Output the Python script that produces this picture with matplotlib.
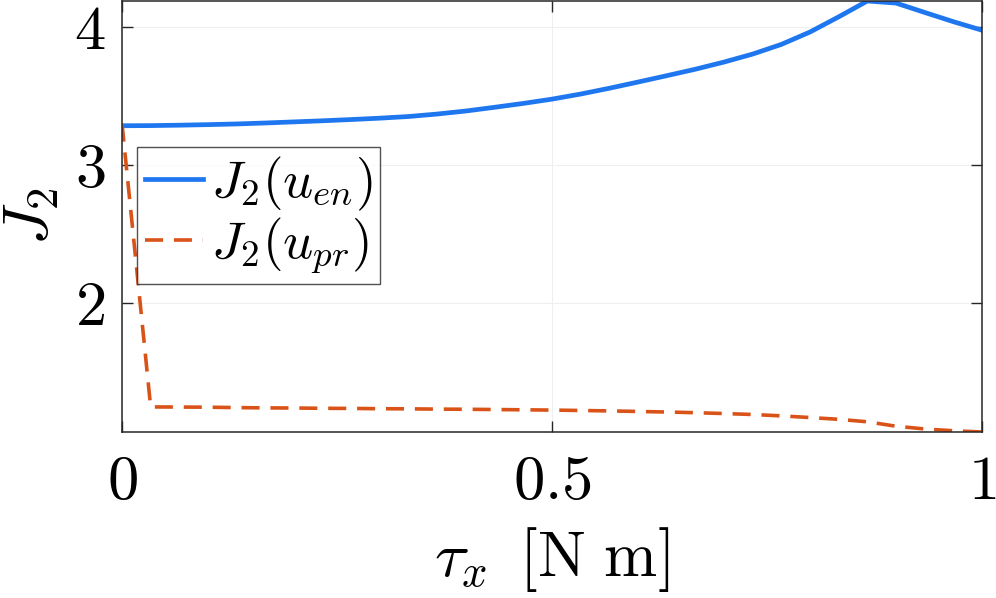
import numpy as np
import matplotlib
matplotlib.use("Agg")
import matplotlib.pyplot as plt

plt.rcParams['mathtext.fontset'] = 'cm'
plt.rcParams['font.family'] = ['serif']
plt.rcParams['font.serif'] = ['cmr10', 'DejaVu Serif']
plt.rcParams['axes.formatter.use_mathtext'] = True

tau = [i / 30 for i in range(31)]
J_en = [3.285, 3.286, 3.289, 3.293, 3.298, 3.305, 3.313, 3.321, 3.330, 3.340,
        3.352, 3.370, 3.392, 3.419, 3.447, 3.478, 3.515, 3.557, 3.602, 3.648,
        3.695, 3.747, 3.805, 3.875, 3.965, 4.075, 4.190, 4.175, 4.107, 4.040, 3.978]
J_pr = [3.300, 1.245, 1.244, 1.243, 1.240, 1.238, 1.237, 1.235, 1.234, 1.232,
        1.231, 1.229, 1.228, 1.226, 1.224, 1.222, 1.219, 1.216, 1.212, 1.208,
        1.203, 1.197, 1.190, 1.180, 1.168, 1.155, 1.137, 1.105, 1.085, 1.072, 1.063]
xticks = [0, 0.5, 1]
xticklabels = ['$0$', '$0.5$', '$1$']
yticks = [2, 3, 4]
yticklabels = ['$2$', '$3$', '$4$']

fig = plt.figure(figsize=(9.96, 5.98), dpi=100)
ax = fig.add_axes([122/996, 1 - 432/598, 860/996, 431/598])

ax.plot(tau, J_en, color='#1f77f0', lw=3.4, label=r'$J_2(u_{en})$')
ax.plot(tau, J_pr, color='#D95319', lw=2.6, dashes=(5, 3), label=r'$J_2(u_{pr})$')

ax.set_xlim(0, 1)
ax.set_ylim(min(J_pr), max(J_en))
ax.set_xticks(xticks)
ax.set_xticklabels(xticklabels, fontsize=45)
ax.set_yticks(yticks)
ax.set_yticklabels(yticklabels, fontsize=45)
ax.tick_params(direction='in', length=8, width=1, color='#262626',
               top=True, right=True)
ax.tick_params(axis='x', pad=17)
ax.tick_params(axis='y', pad=12)
ax.grid(True, color='#efefef', lw=0.8)
for s in ax.spines.values():
    s.set_color('#262626')
    s.set_linewidth(1.1)

ax.set_xlabel(r'$\tau_x\ \,[\mathrm{N\ m}]$', fontsize=46, labelpad=10)
ax.set_ylabel(r'$J_2$', fontsize=46, labelpad=9)

leg = ax.legend(loc='upper left', bbox_to_anchor=(0.017, 0.662), fontsize=38,
                frameon=True, fancybox=False, edgecolor='#262626',
                handlelength=1.1, handletextpad=0.15, borderpad=0.15,
                labelspacing=0.05, borderaxespad=0)
leg.get_frame().set_linewidth(1.0)

fig.savefig('out.png', dpi=100)
